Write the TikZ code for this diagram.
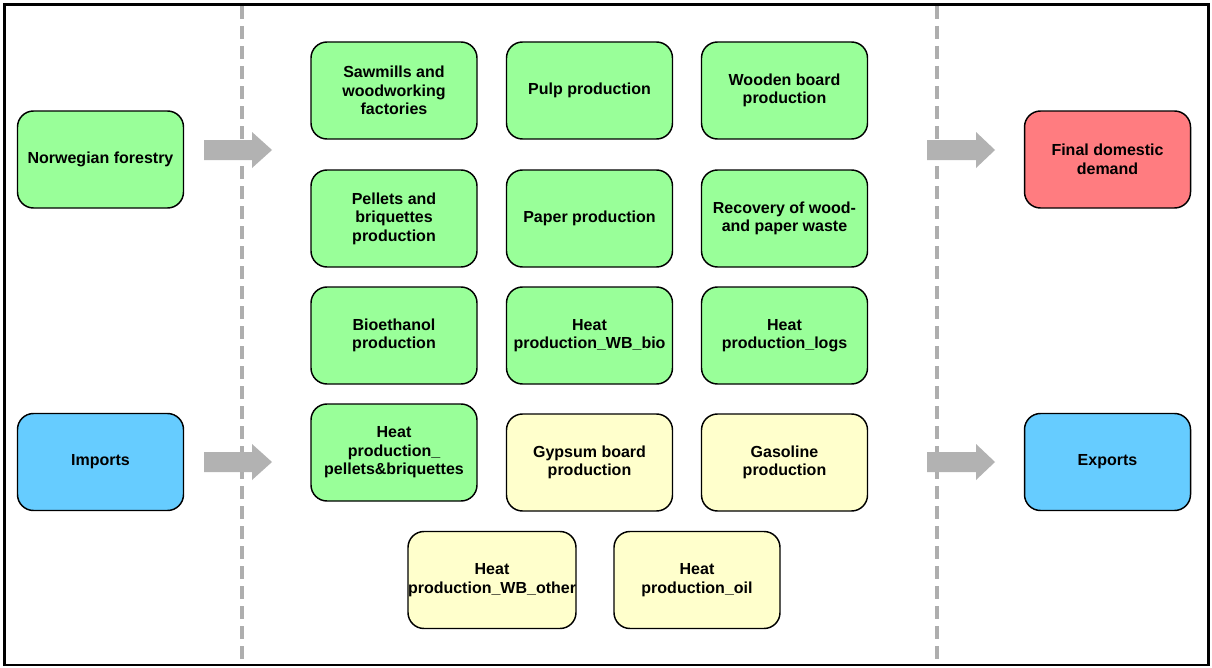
\documentclass[tikz,border=0pt]{standalone}
\usepackage{fontspec}
\setmainfont{Liberation Sans}
\definecolor{boxgreen}{HTML}{99FF99}
\definecolor{boxred}{HTML}{FF7C80}
\definecolor{boxblue}{HTML}{66CCFF}
\definecolor{boxyellow}{HTML}{FFFFCC}
\definecolor{arrowgray}{HTML}{B2B2B2}
\definecolor{dashgray}{HTML}{AEAEAE}
\begin{document}
\begin{tikzpicture}[x=0.75pt,y=-0.75pt,
  stage/.style={draw=black, line width=1.1pt, rounded corners=12pt,
    minimum width=124.5pt, minimum height=72.75pt, inner sep=0pt,
    align=center, font=\fontsize{12}{13.9}\selectfont\bfseries, text=black},
  green/.style={stage, fill=boxgreen},
  red/.style={stage, fill=boxred},
  blue/.style={stage, fill=boxblue},
  yellow/.style={stage, fill=boxyellow},
  sep/.style={draw=dashgray, line width=2.4pt, dash pattern=on 10pt off 5pt},
  blockarrow/.style={fill=arrowgray, draw=none}
]
\useasboundingbox (0,0) rectangle (1212,667);
\fill[white] (0,0) rectangle (1212,667);

% separators
\coordinate (s1t) at (242,6);
\coordinate (s1b) at (242,665);
\coordinate (s2t) at (937,6);
\coordinate (s2b) at (937,665);
\draw[sep] (s1t) -- (s1b);
\draw[sep] (s2t) -- (s2b);

% outer frame
\draw[line width=2.2pt, black] (4.5,4.5) rectangle (1208.5,665);

% left and right nodes
\node[green] (forest)  at (100.5,159.5) {Norwegian forestry};
\node[blue]  (imports) at (100.5,462)   {Imports};
\node[red]   (final)   at (1107.5,159.5) {Final domestic\\demand};
\node[blue]  (exports) at (1107.5,462)   {Exports};

% middle grid
\node[green] (sawmills) at (394,90.5)   {Sawmills and\\woodworking\\factories};
\node[green] (pulp)     at (589.5,90.5) {Pulp production};
\node[green] (wooden)   at (784.5,90.5) {Wooden board\\production};

\node[green] (pellets)  at (394,218.5)   {Pellets and\\briquettes\\production};
\node[green] (paper)    at (589.5,218.5) {Paper production};
\node[green] (recovery) at (784.5,218.5) {Recovery of wood-\\and paper waste};

\node[green] (bioeth)   at (394,335.5)   {Bioethanol\\production};
\node[green] (wbbio)    at (589.5,335.5) {Heat\\production\_WB\_bio};
\node[green] (logs)     at (784.5,335.5) {Heat\\production\_logs};

\node[green]  (heatpel)  at (394,452.5)   {Heat\\production\_\\pellets\&briquettes};
\node[yellow] (gypsum)   at (589.5,462.5) {Gypsum board\\production};
\node[yellow] (gasoline) at (784.5,462.5) {Gasoline\\production};

\node[yellow] (wbother) at (492,580) {Heat\\production\_WB\_other};
\node[yellow] (oil)     at (697,580) {Heat\\production\_oil};

% block arrows
\fill[blockarrow] (204,140) -- (252,140) -- (252,132) -- (272,150) -- (252,168) -- (252,160) -- (204,160) -- cycle;
\fill[blockarrow] (204,452) -- (252,452) -- (252,444) -- (272,462) -- (252,480) -- (252,472) -- (204,472) -- cycle;
\fill[blockarrow] (927,140) -- (976,140) -- (976,132) -- (995,150) -- (976,168) -- (976,160) -- (927,160) -- cycle;
\fill[blockarrow] (927,452) -- (976,452) -- (976,444) -- (995,462) -- (976,480) -- (976,472) -- (927,472) -- cycle;
\end{tikzpicture}
\end{document}
